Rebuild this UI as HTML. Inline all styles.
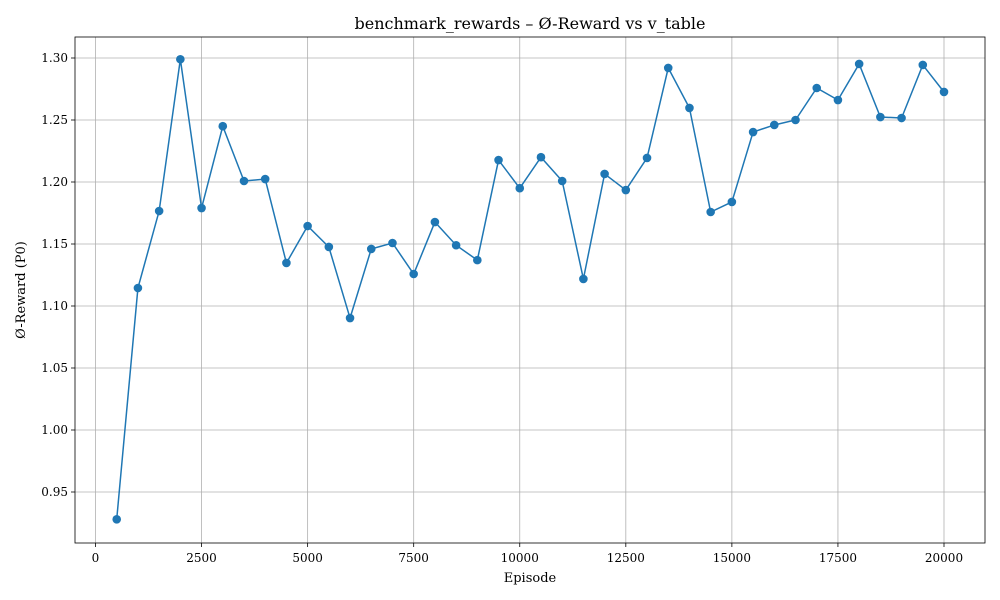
<!DOCTYPE html>
<html><head><meta charset="utf-8">
<style>
body{margin:0;background:#fff;}
svg{display:block;font-family:"DejaVu Serif","Liberation Serif",serif;}
</style></head>
<body>
<svg id="chart" width="1000" height="600" viewBox="0 0 1000 600" xmlns="http://www.w3.org/2000/svg">
<rect width="1000" height="600" fill="#fff"/>
<g id="grid"></g>
<g id="axes"></g>
<g id="series"></g>
<text x="530" y="29" text-anchor="middle" font-size="16">benchmark_rewards – Ø-Reward vs v_table</text>
<text x="530" y="582" text-anchor="middle" font-size="13">Episode</text>
<text transform="translate(25,290) rotate(-90)" text-anchor="middle" font-size="13">Ø-Reward (P0)</text>
</svg>
<script>
const episodes=[500,1000,1500,2000,2500,3000,3500,4000,4500,5000,5500,6000,6500,7000,7500,8000,8500,9000,9500,10000,10500,11000,11500,12000,12500,13000,13500,14000,14500,15000,15500,16000,16500,17000,17500,18000,18500,19000,19500,20000];
const rewards=[0.928,1.1145,1.1766,1.299,1.179,1.245,1.2008,1.2024,1.1347,1.1645,1.1476,1.0903,1.146,1.1508,1.1258,1.1677,1.149,1.137,1.2177,1.195,1.220,1.2008,1.1218,1.2065,1.1935,1.2194,1.292,1.2597,1.1758,1.1839,1.2403,1.246,1.25,1.2758,1.2661,1.2952,1.2524,1.2516,1.2944,1.2726];
const xTicks=[0,2500,5000,7500,10000,12500,15000,17500,20000];
const yTicks=[0.95,1.00,1.05,1.10,1.15,1.20,1.25,1.30];

const L=75,R=985,T=37,B=543;
const xs=v=>95.5+v*(848.5/20000);
const ys=v=>58+(1.30-v)*1240;
const NS="http://www.w3.org/2000/svg";
function mk(tag,attrs,parent){const e=document.createElementNS(NS,tag);for(const k in attrs)e.setAttribute(k,attrs[k]);parent.appendChild(e);return e;}
const grid=document.getElementById('grid'),axes=document.getElementById('axes'),series=document.getElementById('series');
xTicks.forEach(t=>{const x=xs(t);
 const g=mk('line',{x1:x,x2:x,y1:T,y2:B,stroke:'#b0b0b0','stroke-width':0.8},grid);
 
 
 mk('line',{x1:x,x2:x,y1:B,y2:B+4,stroke:'#000','stroke-width':0.8},axes);
 const tx=mk('text',{x:x,y:B+19,'text-anchor':'middle','font-size':12},axes);tx.textContent=t;
 
 
});
yTicks.forEach(t=>{const y=ys(t);
 const g=mk('line',{x1:L,x2:R,y1:y,y2:y,stroke:'#b0b0b0','stroke-width':0.8},grid);
 
 
 mk('line',{x1:L-4,x2:L,y1:y,y2:y,stroke:'#000','stroke-width':0.8},axes);
 const tx=mk('text',{x:L-7,y:y+4,'text-anchor':'end','font-size':12},axes);tx.textContent=t.toFixed(2);
 
 
});
const frame=mk('rect',{x:L,y:T,width:R-L,height:B-T,fill:'none',stroke:'#000','stroke-width':0.8},axes);


const pts=episodes.map((e,i)=>xs(e)+','+ys(rewards[i])).join(' ');
const line=mk('polyline',{points:pts,fill:'none',stroke:'#1f77b4','stroke-width':1.5},series);


episodes.forEach((e,i)=>{
 const c=mk('circle',{cx:xs(e),cy:ys(rewards[i]),r:4.3,fill:'#1f77b4'},series);
 
 
});
</script>
</body></html>
